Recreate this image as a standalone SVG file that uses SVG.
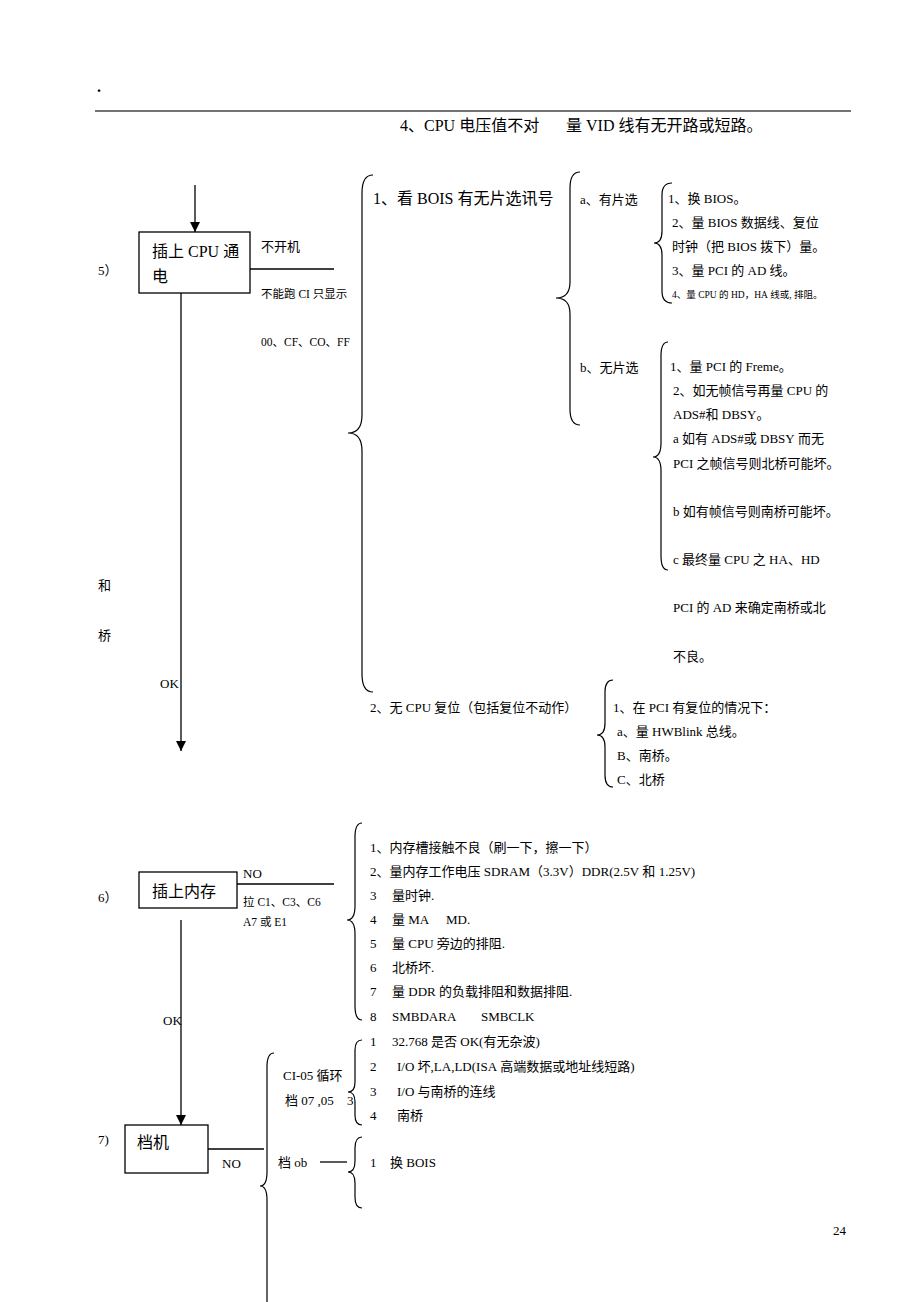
<svg xmlns="http://www.w3.org/2000/svg" width="920" height="1302" viewBox="0 0 920 1302">
<style>
text{font-family:"Liberation Serif","Noto Sans CJK SC",serif;fill:#000;font-size:13px}
.l{font-family:"Liberation Serif",serif}
.big{font-size:16px}
.sm{font-size:11.5px}
.xs{font-size:9.5px}
.ln{stroke:#000;stroke-width:1.3;fill:none}
.br{stroke:#000;stroke-width:1.2;fill:none}
.box{stroke:#000;stroke-width:1.3;fill:#fff}
</style>
<defs>
<marker id="ah" viewBox="0 0 10 10" refX="10" refY="5" markerWidth="10" markerHeight="10" markerUnits="userSpaceOnUse" orient="auto">
<path d="M0,0 L10,5 L0,10 z" fill="#000"/>
</marker>
</defs>
<rect width="920" height="1302" fill="#fff"/>
<g id="header">
<text x="97" y="92" class="big" font-weight="bold">.</text>
<line x1="95" y1="111" x2="851" y2="111" stroke="#444" stroke-width="1.5"/>
<text x="400" y="131" class="big">4、<tspan class="l">CPU</tspan> 电压值不对</text>
<text x="566" y="131" class="big">量 <tspan class="l">VID</tspan> 线有无开路或短路。</text>
</g>
<g id="connectors">
<line class="ln" x1="195" y1="185" x2="195" y2="232" marker-end="url(#ah)"/>
<line class="ln" x1="181" y1="293" x2="181" y2="751" marker-end="url(#ah)"/>
<line class="ln" x1="250" y1="269" x2="334" y2="269"/>
<line class="ln" x1="181" y1="920" x2="181" y2="1125" marker-end="url(#ah)"/>
<line class="ln" x1="237" y1="884" x2="334" y2="884"/>
<line class="ln" x1="208" y1="1149" x2="264" y2="1149"/>
<line class="ln" x1="320" y1="1162" x2="347" y2="1162"/>
</g>
<g id="braces">
<path class="br" d="M373,175 Q362,175 362,193 L362,415 Q362,433 348,433 Q362,433 362,451 L362,674 Q362,692 373,692"/>
<path class="br" d="M580,172 Q570,172 570,188 L570,282 Q570,298 556,298 Q570,298 570,314 L570,409 Q570,425 580,425"/>
<path class="br" d="M672,183 Q662,183 662,195 L662,231 Q662,243 654,243 Q662,243 662,255 L662,291 Q662,303 672,303"/>
<path class="br" d="M668,342 Q661,342 661,356 L661,443 Q661,457 653,457 Q661,457 661,471 L661,556 Q661,570 668,570"/>
<path class="br" d="M613,680 Q605,680 605,692 L605,723 Q605,735 597,735 Q605,735 605,747 L605,775 Q605,787 613,787"/>
<path class="br" d="M362,823 Q355,823 355,837 L355,906 Q355,920 347,920 Q355,920 355,934 L355,1006 Q355,1020 362,1020"/>
<path class="br" d="M274,1053 Q267,1053 267,1067 L267,1172 Q267,1186 260,1186 Q267,1186 267,1200 L267,1310"/>
<path class="br" d="M362,1040 Q355,1040 355,1050 L355,1082 Q355,1092 348,1092 Q355,1092 355,1102 L355,1115 Q355,1125 362,1125"/>
<path class="br" d="M362,1137 Q355,1137 355,1148 L355,1161 Q355,1172 348,1172 Q355,1172 355,1183 L355,1197 Q355,1208 362,1208"/>
</g>
<g id="node5">
<rect class="box" x="139" y="232" width="111" height="61"/>
<text x="152" y="257" class="big">插上 <tspan class="l">CPU</tspan> 通</text>
<text x="152" y="282" class="big">电</text>
<text x="98" y="275">5）</text>
<text x="261" y="251">不开机</text>
<text x="261" y="298" class="sm">不能跑 <tspan class="l">CI</tspan>  只显示</text>
<text x="261" y="346" class="sm">00、<tspan class="l">CF</tspan>、<tspan class="l">CO</tspan>、<tspan class="l">FF</tspan></text>
<text x="98" y="590">和</text>
<text x="98" y="640">桥</text>
<text x="160" y="688">OK</text>
</g>
<g id="bois">
<text x="373" y="204" class="big">1、看 <tspan class="l">BOIS</tspan> 有无片选讯号</text>
<text x="580" y="204">a、有片选</text>
<text x="580" y="372">b、无片选</text>
</g>
<g id="a-items">
<text x="668" y="203">1、换 <tspan class="l">BIOS</tspan>。</text>
<text x="672" y="227">2、量 <tspan class="l">BIOS</tspan> 数据线、复位</text>
<text x="672" y="251">时钟（把 <tspan class="l">BIOS</tspan> 拨下）量。</text>
<text x="672" y="275">3、量 <tspan class="l">PCI</tspan> 的 <tspan class="l">AD</tspan> 线。</text>
<text x="672" y="298" class="xs">4、量 <tspan class="l">CPU</tspan> 的 <tspan class="l">HD</tspan>，<tspan class="l">HA</tspan> 线或<tspan class="l">, </tspan>排阻。</text>
</g>
<g id="b-items">
<text x="670" y="371">1、量 <tspan class="l">PCI</tspan> 的 <tspan class="l">Freme</tspan>。</text>
<text x="673" y="395">2、如无帧信号再量 <tspan class="l">CPU</tspan> 的</text>
<text x="673" y="419">ADS#和 <tspan class="l">DBSY</tspan>。</text>
<text x="673" y="443">a 如有 <tspan class="l">ADS#</tspan>或 <tspan class="l">DBSY</tspan> 而无</text>
<text x="673" y="468">PCI 之帧信号则北桥可能坏。</text>
<text x="673" y="516">b 如有帧信号则南桥可能坏。</text>
<text x="673" y="564">c 最终量 <tspan class="l">CPU</tspan> 之 <tspan class="l">HA</tspan>、<tspan class="l">HD</tspan></text>
<text x="673" y="612">PCI 的 <tspan class="l">AD</tspan> 来确定南桥或北</text>
<text x="673" y="661">不良。</text>
</g>
<g id="reset">
<text x="370" y="712">2、无 <tspan class="l">CPU</tspan> 复位（包括复位不动作）</text>
<text x="613" y="712">1、在 <tspan class="l">PCI</tspan> 有复位的情况下：</text>
<text x="617" y="736">a、量 <tspan class="l">HWBlink</tspan> 总线。</text>
<text x="617" y="760">B、南桥。</text>
<text x="617" y="784">C、北桥</text>
</g>
<g id="node6">
<rect class="box" x="139" y="872" width="98" height="36"/>
<text x="152" y="897" class="big">插上内存</text>
<text x="98" y="902">6）</text>
<text x="243" y="878">NO</text>
<text x="243" y="906" class="sm">拉 <tspan class="l">C1</tspan>、<tspan class="l">C3</tspan>、<tspan class="l">C6</tspan></text>
<text x="243" y="926" class="sm">A7 或 <tspan class="l">E1</tspan></text>
<text x="163" y="1025">OK</text>
</g>
<g id="mem-items">
<text x="370" y="852">1、内存槽接触不良（刷一下，擦一下）</text>
<text x="370" y="876">2、量内存工作电压 <tspan class="l">SDRAM</tspan>（<tspan class="l">3.3V</tspan>）<tspan class="l">DDR(2.5V</tspan> 和 <tspan class="l">1.25V)</tspan></text>
<text x="370" y="900">3<tspan x="392">量时钟</tspan><tspan class="l">.</tspan></text>
<text x="370" y="924">4<tspan x="392">量 </tspan><tspan class="l">MA</tspan><tspan class="l" x="446">MD.</tspan></text>
<text x="370" y="948">5<tspan x="392">量 </tspan><tspan class="l">CPU</tspan> 旁边的排阻<tspan class="l">.</tspan></text>
<text x="370" y="972">6<tspan x="392">北桥坏</tspan><tspan class="l">.</tspan></text>
<text x="370" y="996">7<tspan x="392">量 </tspan><tspan class="l">DDR</tspan> 的负载排阻和数据排阻<tspan class="l">.</tspan></text>
<text x="370" y="1021">8<tspan x="392">SMBDARA</tspan><tspan x="481">SMBCLK</tspan></text>
</g>
<g id="node7">
<rect class="box" x="125" y="1125" width="83" height="48"/>
<text x="137" y="1148" class="big">档机</text>
<text x="98" y="1144">7)</text>
<text x="222" y="1168">NO</text>
<text x="283" y="1080">CI-05 循环</text>
<text x="285" y="1105">档 <tspan class="l">07 ,05</tspan></text>
<text x="347" y="1105">3</text>
<text x="278" y="1167">档 <tspan class="l">ob</tspan></text>
</g>
<g id="ci-items">
<text x="370" y="1046">1<tspan x="392">32.768 是否 </tspan><tspan class="l">OK(</tspan>有无杂波<tspan class="l">)</tspan></text>
<text x="370" y="1071">2<tspan x="397">I/O 坏</tspan><tspan class="l">,LA,LD(ISA</tspan> 高端数据或地址线短路<tspan class="l">)</tspan></text>
<text x="370" y="1096">3<tspan x="397">I/O 与南桥的连线</tspan></text>
<text x="370" y="1120">4<tspan x="397">南桥</tspan></text>
<text x="370" y="1167">1<tspan x="390">换 </tspan><tspan class="l">BOIS</tspan></text>
</g>
<g id="footer">
<text x="833" y="1235">24</text>
</g>
</svg>
